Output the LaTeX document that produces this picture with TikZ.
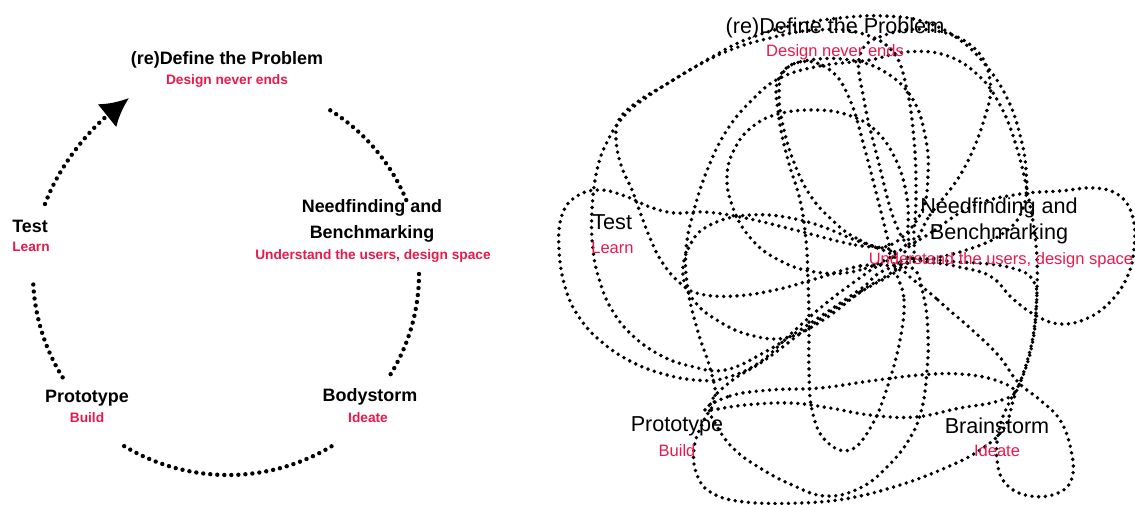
\documentclass[tikz,border=0pt]{standalone}
\usepackage{fontspec}
\setmainfont{Liberation Sans}
\usetikzlibrary{arrows.meta,positioning,calc}
\definecolor{notered}{HTML}{E8194B}

\begin{document}
\begin{tikzpicture}[
    x=0.02cm, y=-0.02cm,
    stage/.style={inner sep=0pt, align=center, font=\bfseries\fontsize{10.2}{14.7}\selectfont},
    note/.style={inner sep=0pt, text=notered, font=\bfseries\fontsize{7.8}{9}\selectfont},
    rstage/.style={inner sep=0pt, align=center, font=\fontsize{12.3}{14.5}\selectfont},
    rnote/.style={inner sep=0pt, text=notered, font=\fontsize{9.4}{11}\selectfont},
    arcline/.style={line width=2.5pt, line cap=round, dash pattern=on 0pt off 4pt},
    scribble/.style={line width=2.2pt, line cap=round, dash pattern=on 0pt off 3.8pt},
    tip/.style={-{Latex[length=16pt,width=17pt]}}
  ]
  \useasboundingbox (0,0) rectangle (1135,504);

  % left: the tidy cycle
  \node[stage] (define) at (227,60) {(re)Define the Problem};
  \node[note] (definenote) at (227,81) {Design never ends};
  \node[stage] (need) at (372,221) {Needfinding and\\Benchmarking};
  \node[note] (neednote) at (373,256) {Understand the users, design space};
  \node[stage] (body) at (370,397) {Bodystorm};
  \node[note] (bodynote) at (368,418) {Ideate};
  \node[stage] (proto) at (87,398) {Prototype};
  \node[note] (protonote) at (87,418) {Build};
  \node[stage, anchor=west] (test) at (12,226) {Test};
  \node[note, anchor=west] (testnote) at (12,247) {Learn};

  \coordinate (ctr) at (228,274);
  \coordinate (s1) at ($(ctr)+(-58:193)$);
  \coordinate (s2) at ($(ctr)+(0:191)$);
  \coordinate (s3) at ($(ctr)+(59:201)$);
  \coordinate (s4) at ($(ctr)+(148:195)$);
  \coordinate (s5) at (45,204);
  \coordinate (tipend) at (129,98);
  \draw[arcline] (s1) arc[start angle=-58, end angle=-22, radius=193];
  \draw[arcline] (s2) arc[start angle=0, end angle=32, radius=191];
  \draw[arcline] (s3) arc[start angle=59, end angle=123, radius=201];
  \draw[arcline] (s4) arc[start angle=148, end angle=178, radius=195];
  \draw[arcline, tip] (s5) .. controls (61,161) and (93,127) .. (tipend);

  % right: the real, messy process
  \draw[scribble] plot[smooth cycle, tension=0.7] coordinates {(895,252) (850,244) (795,230) (745,218) (705,212) (675,213) (650,207) (625,196) (600,190) (577,196) (562,215) (559,250) (566,290) (581,320) (603,343) (630,361) (660,373) (695,380) (725,378) (760,362) (795,330) (830,300) (868,272)};
  \draw[scribble] plot[smooth cycle, tension=0.7] coordinates {(908,262) (860,266) (815,279) (775,290) (735,296) (700,294) (680,283) (662,262) (650,238) (640,212) (632,190) (621,165) (616,138) (620,118) (640,100) (665,85) (695,67) (730,50) (770,38) (815,30) (860,33) (893,52) (907,90) (914,140) (916,190) (914,230)};
  \draw[scribble] plot[smooth cycle, tension=0.7] coordinates {(890,268) (862,288) (830,310) (800,330) (765,352) (725,370) (690,366) (660,355) (632,335) (612,310) (600,282) (593,250) (592,210) (597,170) (608,140) (625,115) (650,95) (680,76) (712,57) (745,40) (790,26) (840,18) (885,16) (925,22) (960,40) (988,68) (1008,100) (1020,135) (1026,170) (1024,205) (1005,232) (960,252)};
  \draw[scribble] plot[smooth cycle, tension=0.7] coordinates {(870,60) (820,66) (780,78) (752,100) (727,130) (708,168) (694,210) (686,250) (688,290) (698,332) (710,368) (715,398) (703,422) (694,448) (697,475) (712,493) (745,502) (800,503) (850,498) (900,485) (945,468) (980,450) (1004,428) (1014,398) (1026,365) (1034,330) (1037,290) (1036,245) (1028,195) (1016,145) (1000,105) (978,75) (945,55) (905,52)};
  \draw[scribble] plot[smooth cycle, tension=0.7] coordinates {(903,248) (860,270) (815,272) (775,258) (748,235) (732,205) (727,175) (735,148) (752,127) (778,114) (815,110) (848,115) (875,130) (895,158) (906,192) (908,225)};
  \draw[scribble] plot[smooth cycle, tension=0.7] coordinates {(888,246) (856,238) (830,218) (810,195) (795,165) (784,130) (779,95) (785,70) (810,60) (850,60) (885,72) (912,98) (925,135) (928,175) (920,215)};
  \draw[scribble] plot[smooth cycle, tension=0.7] coordinates {(905,255) (935,230) (975,205) (1020,194) (1060,191) (1095,188) (1120,196) (1133,218) (1134,248) (1128,275) (1112,300) (1088,318) (1060,324) (1035,315) (1012,298) (990,276) (955,266)};
  \draw[scribble] plot[smooth cycle, tension=0.7] coordinates {(912,244) (930,215) (962,172) (984,120) (990,80) (972,46) (930,30) (885,35) (860,55) (864,100) (878,160) (895,222)};
  \draw[scribble] plot[smooth cycle, tension=0.7] coordinates {(900,262) (938,300) (970,328) (998,355) (1018,382) (1040,400) (1060,420) (1071,450) (1072,478) (1058,493) (1030,496) (1006,484) (997,460) (999,430) (1008,405) (1022,378) (1032,345) (1036,310) (1034,282) (1012,268) (960,262)};
  \draw[scribble] plot[smooth cycle, tension=0.7] coordinates {(705,410) (730,396) (770,390) (820,388) (870,381) (920,375) (960,374) (995,380) (1015,392) (995,402) (960,408) (915,417) (870,415) (830,408) (790,403) (745,405)};
  \draw[scribble] plot[smooth cycle, tension=0.7] coordinates {(912,268) (924,298) (928,335) (927,370) (922,408) (910,438) (888,466) (860,488) (825,496) (790,484) (760,468) (735,450) (718,428) (710,405) (730,382) (765,360) (805,330) (845,302) (882,280)};
  \draw[scribble] plot[smooth cycle, tension=0.7] coordinates {(896,272) (904,300) (900,340) (888,385) (872,425) (850,450) (825,440) (812,410) (809,370) (809,320) (808,280) (806,240) (800,200) (788,160) (779,118) (778,80) (800,62) (830,70) (850,100) (865,150) (878,200) (888,240)};
  \draw[scribble] plot[smooth cycle, tension=0.7] coordinates {(898,262) (860,292) (820,322) (785,338) (750,335) (720,322) (695,302) (683,275) (690,245) (710,225) (750,215) (800,220) (850,238)};

  \node[rstage] (rdefine) at (835,28) {(re)Define the Problem};
  \node[rnote] (rdefinenote) at (835,52) {Design never ends};
  \node[rstage] (rneed) at (999,221) {Needfinding and\\Benchmarking};
  \node[rnote] (rneednote) at (1001,260) {Understand the users, design space};
  \node[rstage] (rbrain) at (997,426) {Brainstorm};
  \node[rnote] (rbrainnote) at (997,451) {Ideate};
  \node[rstage] (rproto) at (677,426) {Prototype};
  \node[rnote] (rprotonote) at (677,451) {Build};
  \node[rstage, anchor=west] (rtest) at (592,222) {Test};
  \node[rnote, anchor=west] (rtestnote) at (591,248) {Learn};
\end{tikzpicture}
\end{document}
